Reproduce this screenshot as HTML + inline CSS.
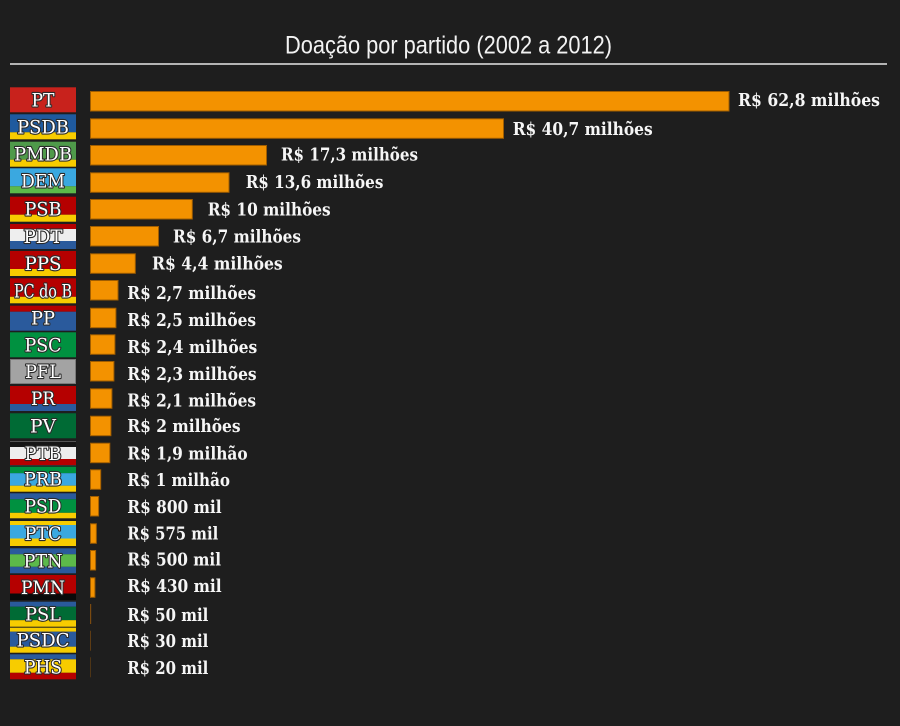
<!DOCTYPE html>
<html><head><meta charset="utf-8"><style>
html,body{margin:0;padding:0;background:#1e1e1e;}
svg{display:block;}
.lb{font-family:"DejaVu Serif","Liberation Serif",serif;font-weight:bold;font-size:18px;fill:#f6f6f6;}
.bt{font-family:"DejaVu Serif","Liberation Serif",serif;font-size:19px;font-weight:normal;fill:#ffffff;stroke:#2a2a2a;stroke-width:2.2px;paint-order:stroke;stroke-linejoin:round;}
.tt{font-family:"Liberation Sans","DejaVu Sans",sans-serif;font-size:25px;fill:#f2f2f2;}
.bar{fill:#f39200;stroke:#a05d00;stroke-width:1;}
</style></head><body>
<svg width="900" height="726" viewBox="0 0 900 726" xmlns="http://www.w3.org/2000/svg">
<rect x="0" y="0" width="900" height="726" fill="#1e1e1e"/>
<text class="tt" x="448.5" y="53.5" text-anchor="middle" textLength="327" lengthAdjust="spacingAndGlyphs">Doação por partido (2002 a 2012)</text>
<rect x="10" y="63" width="877" height="2" fill="#b4b4b4"/>

<!-- PT -->
<g transform="translate(10,87.3)"><rect width="66" height="25" fill="#c8221c"/></g>
<text class="bt" x="43" y="106.3" text-anchor="middle" textLength="23" lengthAdjust="spacingAndGlyphs">PT</text>
<rect class="bar" x="90.5" y="91.5" width="638.5" height="19.5"/>
<text class="lb" x="738" y="105.9" textLength="142" lengthAdjust="spacingAndGlyphs">R$ 62,8 milhões</text>

<!-- PSDB -->
<g transform="translate(10,114.3)"><rect width="66" height="18" fill="#1f5a9e"/><rect y="18" width="66" height="7" fill="#f7cc00"/></g>
<text class="bt" x="43" y="133.3" text-anchor="middle" textLength="52" lengthAdjust="spacingAndGlyphs">PSDB</text>
<rect class="bar" x="90.5" y="118.8" width="413" height="19.5"/>
<text class="lb" x="512.7" y="134.9" textLength="140" lengthAdjust="spacingAndGlyphs">R$ 40,7 milhões</text>

<!-- PMDB -->
<g transform="translate(10,141.7)"><rect width="66" height="18" fill="#4f9a4a"/><rect y="18" width="66" height="7" fill="#f7cc00"/></g>
<text class="bt" x="43" y="160.7" text-anchor="middle" textLength="58" lengthAdjust="spacingAndGlyphs">PMDB</text>
<rect class="bar" x="90.5" y="145.5" width="176" height="19.5"/>
<text class="lb" x="281" y="160.3" textLength="137" lengthAdjust="spacingAndGlyphs">R$ 17,3 milhões</text>

<!-- DEM -->
<g transform="translate(10,168.3)"><rect width="66" height="18" fill="#3aa8e0"/><rect y="18" width="66" height="7" fill="#5cb94a"/></g>
<text class="bt" x="43" y="187.3" text-anchor="middle" textLength="44" lengthAdjust="spacingAndGlyphs">DEM</text>
<rect class="bar" x="90.5" y="172.8" width="138.5" height="19.5"/>
<text class="lb" x="245.7" y="187.9" textLength="137.7" lengthAdjust="spacingAndGlyphs">R$ 13,6 milhões</text>

<!-- PSB -->
<g transform="translate(10,196.7)"><rect width="66" height="18" fill="#b50000"/><rect y="18" width="66" height="7" fill="#f7cc00"/></g>
<text class="bt" x="43" y="215.7" text-anchor="middle" textLength="37" lengthAdjust="spacingAndGlyphs">PSB</text>
<rect class="bar" x="90.5" y="199.5" width="101.8" height="19.5"/>
<text class="lb" x="207.7" y="215.4" textLength="123" lengthAdjust="spacingAndGlyphs">R$ 10 milhões</text>

<!-- PDT -->
<g transform="translate(10,224)"><rect width="66" height="5" fill="#b50000"/><rect y="5" width="66" height="12" fill="#eeeeee"/><rect y="17" width="66" height="8" fill="#2a5a9c"/></g>
<text class="bt" x="43" y="243" text-anchor="middle" textLength="39" lengthAdjust="spacingAndGlyphs">PDT</text>
<rect class="bar" x="90.5" y="226.5" width="68" height="19.5"/>
<text class="lb" x="173" y="242.6" textLength="128" lengthAdjust="spacingAndGlyphs">R$ 6,7 milhões</text>

<!-- PPS -->
<g transform="translate(10,251)"><rect width="66" height="18" fill="#b50000"/><rect y="18" width="66" height="7" fill="#f7cc00"/></g>
<text class="bt" x="43" y="270" text-anchor="middle" textLength="37" lengthAdjust="spacingAndGlyphs">PPS</text>
<rect class="bar" x="90.5" y="253.8" width="44.8" height="19.5"/>
<text class="lb" x="152" y="269.6" textLength="130.7" lengthAdjust="spacingAndGlyphs">R$ 4,4 milhões</text>

<!-- PC do B -->
<g transform="translate(10,278.3)"><rect width="66" height="18.5" fill="#b50000"/><rect y="18.5" width="66" height="6.5" fill="#f7cc00"/></g>
<text class="bt" x="43" y="297.3" text-anchor="middle" textLength="58" lengthAdjust="spacingAndGlyphs">PC do B</text>
<rect class="bar" x="90.5" y="280.5" width="27.5" height="19.5"/>
<text class="lb" x="127.3" y="298.8" textLength="128.7" lengthAdjust="spacingAndGlyphs">R$ 2,7 milhões</text>

<!-- PP -->
<g transform="translate(10,305.7)"><rect width="66" height="6" fill="#b50000"/><rect y="6" width="66" height="19" fill="#2a5a9c"/></g>
<text class="bt" x="43" y="324.7" text-anchor="middle" textLength="24" lengthAdjust="spacingAndGlyphs">PP</text>
<rect class="bar" x="90.5" y="308.2" width="25.4" height="19.5"/>
<text class="lb" x="127.3" y="325.8" textLength="128.7" lengthAdjust="spacingAndGlyphs">R$ 2,5 milhões</text>

<!-- PSC -->
<g transform="translate(10,332.3)"><rect width="66" height="25" fill="#009140"/></g>
<text class="bt" x="43" y="351.3" text-anchor="middle" textLength="37" lengthAdjust="spacingAndGlyphs">PSC</text>
<rect class="bar" x="90.5" y="334.8" width="24.4" height="19.5"/>
<text class="lb" x="127.3" y="352.9" textLength="130" lengthAdjust="spacingAndGlyphs">R$ 2,4 milhões</text>

<!-- PFL -->
<g transform="translate(10,359)"><rect x="0.5" y="0.5" width="65" height="24" fill="#a3a3a3" stroke="#7a7a7a" stroke-width="1"/></g>
<text class="bt" x="43" y="378" text-anchor="middle" textLength="36" lengthAdjust="spacingAndGlyphs">PFL</text>
<rect class="bar" x="90.5" y="361.5" width="23.4" height="19.5"/>
<text class="lb" x="127.3" y="379.9" textLength="129.3" lengthAdjust="spacingAndGlyphs">R$ 2,3 milhões</text>

<!-- PR -->
<g transform="translate(10,386)"><rect width="66" height="18" fill="#b50000"/><rect y="18" width="66" height="7" fill="#2a5a9c"/></g>
<text class="bt" x="43" y="405" text-anchor="middle" textLength="24" lengthAdjust="spacingAndGlyphs">PR</text>
<rect class="bar" x="90.5" y="388.8" width="21.4" height="19.5"/>
<text class="lb" x="127.3" y="406.6" textLength="128.7" lengthAdjust="spacingAndGlyphs">R$ 2,1 milhões</text>

<!-- PV -->
<g transform="translate(10,413.3)"><rect width="66" height="25" fill="#006b35"/></g>
<text class="bt" x="43" y="432.3" text-anchor="middle" textLength="26" lengthAdjust="spacingAndGlyphs">PV</text>
<rect class="bar" x="90.5" y="416.2" width="20.4" height="19.5"/>
<text class="lb" x="127.3" y="432.1" textLength="113.3" lengthAdjust="spacingAndGlyphs">R$ 2 milhões</text>

<!-- PTB -->
<g transform="translate(10,441)"><rect width="66" height="6" fill="#161616"/><rect x="0" y="0" width="66" height="1" fill="#555"/><rect y="6" width="66" height="12" fill="#eeeeee"/><rect y="18" width="66" height="6" fill="#b50000"/><rect y="24" width="66" height="1" fill="#333"/></g>
<text class="bt" x="43" y="460" text-anchor="middle" textLength="37" lengthAdjust="spacingAndGlyphs">PTB</text>
<rect class="bar" x="90.5" y="443.2" width="19.3" height="19.5"/>
<text class="lb" x="127.3" y="459.4" textLength="120.3" lengthAdjust="spacingAndGlyphs">R$ 1,9 milhão</text>

<!-- PRB -->
<g transform="translate(10,466.7)"><rect width="66" height="6.5" fill="#009140"/><rect y="6.5" width="66" height="12.5" fill="#3aa8e0"/><rect y="19" width="66" height="6" fill="#f7cc00"/></g>
<text class="bt" x="43" y="485.7" text-anchor="middle" textLength="38" lengthAdjust="spacingAndGlyphs">PRB</text>
<rect class="bar" x="90.5" y="469.8" width="10.2" height="19.5"/>
<text class="lb" x="127.3" y="486.1" textLength="102.7" lengthAdjust="spacingAndGlyphs">R$ 1 milhão</text>

<!-- PSD -->
<g transform="translate(10,493.3)"><rect width="66" height="6" fill="#2a5a9c"/><rect y="6" width="66" height="13.5" fill="#009140"/><rect y="19.5" width="66" height="5.5" fill="#f7cc00"/></g>
<text class="bt" x="43" y="512.3" text-anchor="middle" textLength="37" lengthAdjust="spacingAndGlyphs">PSD</text>
<rect class="bar" x="90.5" y="496.5" width="8.1" height="19.5"/>
<text class="lb" x="127.3" y="512.8" textLength="94.3" lengthAdjust="spacingAndGlyphs">R$ 800 mil</text>

<!-- PTC -->
<g transform="translate(10,521)"><rect width="66" height="4" fill="#f7cc00"/><rect y="4" width="66" height="13.5" fill="#3aa8e0"/><rect y="17.5" width="66" height="7.5" fill="#f7cc00"/></g>
<text class="bt" x="43" y="540" text-anchor="middle" textLength="37" lengthAdjust="spacingAndGlyphs">PTC</text>
<rect class="bar" x="90.5" y="523.8" width="5.85" height="19.5"/>
<text class="lb" x="127.3" y="539.4" textLength="91" lengthAdjust="spacingAndGlyphs">R$ 575 mil</text>

<!-- PTN -->
<g transform="translate(10,548.3)"><rect width="66" height="6" fill="#2a5a9c"/><rect y="6" width="66" height="12.5" fill="#5cb94a"/><rect y="18.5" width="66" height="6.5" fill="#2a5a9c"/></g>
<text class="bt" x="43" y="567.3" text-anchor="middle" textLength="39" lengthAdjust="spacingAndGlyphs">PTN</text>
<rect class="bar" x="90.5" y="550.5" width="5.1" height="19.5"/>
<text class="lb" x="127.3" y="565.3" textLength="93.7" lengthAdjust="spacingAndGlyphs">R$ 500 mil</text>

<!-- PMN -->
<g transform="translate(10,575)"><rect width="66" height="18.5" fill="#b50000"/><rect y="18.5" width="66" height="6.5" fill="#0a0a0a"/></g>
<text class="bt" x="43" y="594" text-anchor="middle" textLength="44" lengthAdjust="spacingAndGlyphs">PMN</text>
<rect class="bar" x="90.5" y="577.8" width="4.4" height="19.5"/>
<text class="lb" x="127.3" y="592.1" textLength="94.3" lengthAdjust="spacingAndGlyphs">R$ 430 mil</text>

<!-- PSL -->
<g transform="translate(10,601.7)"><rect width="66" height="5" fill="#2a5a9c"/><rect y="5" width="66" height="13.5" fill="#006b35"/><rect y="18.5" width="66" height="6.5" fill="#f7cc00"/></g>
<text class="bt" x="43" y="620.7" text-anchor="middle" textLength="36" lengthAdjust="spacingAndGlyphs">PSL</text>
<rect x="90" y="604" width="1.2" height="20" fill="#7a4a10"/>
<text class="lb" x="127.3" y="621.1" textLength="81" lengthAdjust="spacingAndGlyphs">R$ 50 mil</text>

<!-- PSDC -->
<g transform="translate(10,627.7)"><rect width="66" height="4" fill="#f7cc00"/><rect y="4" width="66" height="15" fill="#2a5a9c"/><rect y="19" width="66" height="6" fill="#f7cc00"/></g>
<text class="bt" x="43" y="646.7" text-anchor="middle" textLength="53" lengthAdjust="spacingAndGlyphs">PSDC</text>
<rect x="90" y="630.7" width="1" height="20" fill="#5e3c14"/>
<text class="lb" x="127.3" y="647.1" textLength="81" lengthAdjust="spacingAndGlyphs">R$ 30 mil</text>

<!-- PHS -->
<g transform="translate(10,654.3)"><rect width="66" height="5" fill="#2a5a9c"/><rect y="5" width="66" height="13.5" fill="#f7cc00"/><rect y="18.5" width="66" height="6.5" fill="#b50000"/></g>
<text class="bt" x="43" y="673.3" text-anchor="middle" textLength="38" lengthAdjust="spacingAndGlyphs">PHS</text>
<rect x="90" y="657.3" width="1" height="20" fill="#4e3516"/>
<text class="lb" x="127.3" y="673.8" textLength="81" lengthAdjust="spacingAndGlyphs">R$ 20 mil</text>
</svg>
</body></html>
